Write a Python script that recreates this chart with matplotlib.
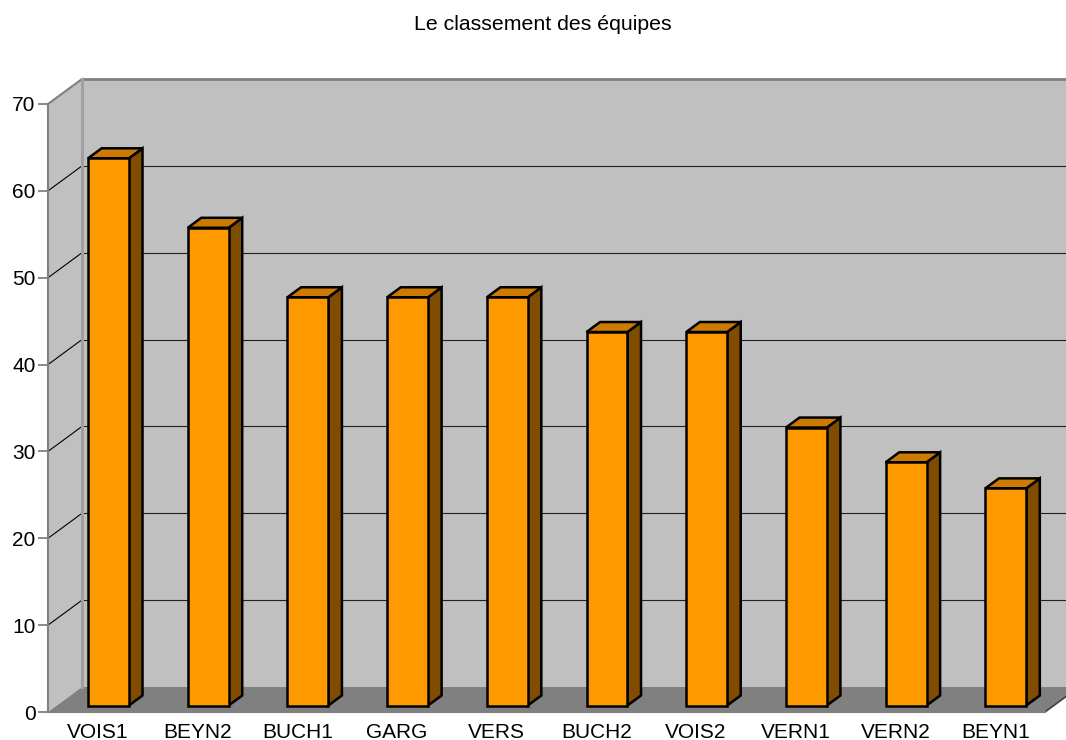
import matplotlib
matplotlib.use("Agg")
import matplotlib.pyplot as plt
from matplotlib.patches import Polygon
import numpy as np

plt.rcParams["font.family"] = ["Liberation Sans", "DejaVu Sans"]

# Data
teams = ["VOIS1", "BEYN2", "BUCH1", "GARG", "VERS", "BUCH2", "VOIS2", "VERN1", "VERN2", "BEYN1"]
points = [63, 55, 47, 47, 47, 43, 43, 32, 28, 25]
y_ticks = [0, 10, 20, 30, 40, 50, 60, 70]
title = "Le classement des équipes"

# 3D look: depth offset of the back wall in data units
DX = 0.341
DY = 2.878
bar_front = 0.26   # depth fraction where bar front face sits
bar_depth = 0.40   # depth fraction of the bar itself
bar_width = 0.41
bar_shift = 0.018

wall = "#c0c0c0"
floor = "#808080"
edge_gray = "#808080"

fig = plt.figure(figsize=(10.66, 7.40), dpi=100)
ax = fig.add_axes([48 / 1066, 28 / 740, 997 / 1066, 608 / 740])
n = len(teams)
x0, x1 = -0.5, n - 0.5
ymax = 70
ax.set_xlim(x0, x1)
ax.set_ylim(0, ymax)

# back wall
ax.add_patch(Polygon([(x0 + DX, DY), (x1 + DX, DY), (x1 + DX, ymax + DY), (x0 + DX, ymax + DY)],
                     closed=True, facecolor=wall, edgecolor="none", clip_on=False, zorder=1))
# side wall
ax.add_patch(Polygon([(x0, 0), (x0 + DX, DY), (x0 + DX, ymax + DY), (x0, ymax)],
                     closed=True, facecolor=wall, edgecolor="none", clip_on=False, zorder=1))
# floor
ax.add_patch(Polygon([(x0, 0), (x1, 0), (x1 + DX, DY), (x0 + DX, DY)],
                     closed=True, facecolor=floor, edgecolor="none", clip_on=False, zorder=1))

# gridlines on walls
for v in y_ticks[1:-1]:
    ax.plot([x0 + DX, x1 + DX], [v + DY, v + DY], color="#202020", lw=0.8, clip_on=False, zorder=2)
    ax.plot([x0, x0 + DX], [v, v + DY], color="#000000", lw=0.8, clip_on=False, zorder=2)

# wall borders
ax.plot([x0 + DX, x1 + DX], [ymax + DY, ymax + DY], color=edge_gray, lw=2, clip_on=False, zorder=2)
ax.plot([x0, x0 + DX], [ymax, ymax + DY], color=edge_gray, lw=1.5, clip_on=False, zorder=2)
ax.plot([x0 + DX, x0 + DX], [DY, ymax + DY], color="#a0a0a0", lw=2.2, clip_on=False, zorder=2)
ax.plot([x1, x1 + DX], [0, DY], color="#404040", lw=1.2, clip_on=False, zorder=2)

# bars
for i, v in enumerate(points):
    bx0 = i - bar_width / 2 + bar_front * DX + bar_shift
    bx1 = bx0 + bar_width
    by0 = bar_front * DY
    by1 = v + by0
    ddx = bar_depth * DX
    ddy = bar_depth * DY
    kw = dict(closed=True, edgecolor="black", lw=1.8, joinstyle="miter", clip_on=False, zorder=3)
    ax.add_patch(Polygon([(bx1, by0), (bx1 + ddx, by0 + ddy), (bx1 + ddx, by1 + ddy), (bx1, by1)],
                         facecolor="#7f4c00", **kw))
    ax.add_patch(Polygon([(bx0, by1), (bx1, by1), (bx1 + ddx, by1 + ddy), (bx0 + ddx, by1 + ddy)],
                         facecolor="#cc7a00", **kw))
    ax.add_patch(Polygon([(bx0, by0), (bx1, by0), (bx1, by1), (bx0, by1)],
                         facecolor="#ff9900", **kw))

# axes styling
for s in ["top", "right"]:
    ax.spines[s].set_visible(False)
for s in ["left", "bottom"]:
    ax.spines[s].set_color(edge_gray)
    ax.spines[s].set_linewidth(1.5)
    ax.spines[s].set_zorder(4)
ax.set_facecolor("none")

ax.set_yticks(y_ticks)
ax.set_xticks(np.arange(n))
ax.set_xticklabels(teams)
ax.tick_params(axis="y", length=7, width=1.3, color=edge_gray, labelsize=15, pad=2)
ax.tick_params(axis="x", length=0, labelsize=15, pad=8)

fig.text(543 / 1066, 1 - 30 / 740, title, ha="center", va="baseline", fontsize=15.3)

fig.savefig("out.png", dpi=100)
